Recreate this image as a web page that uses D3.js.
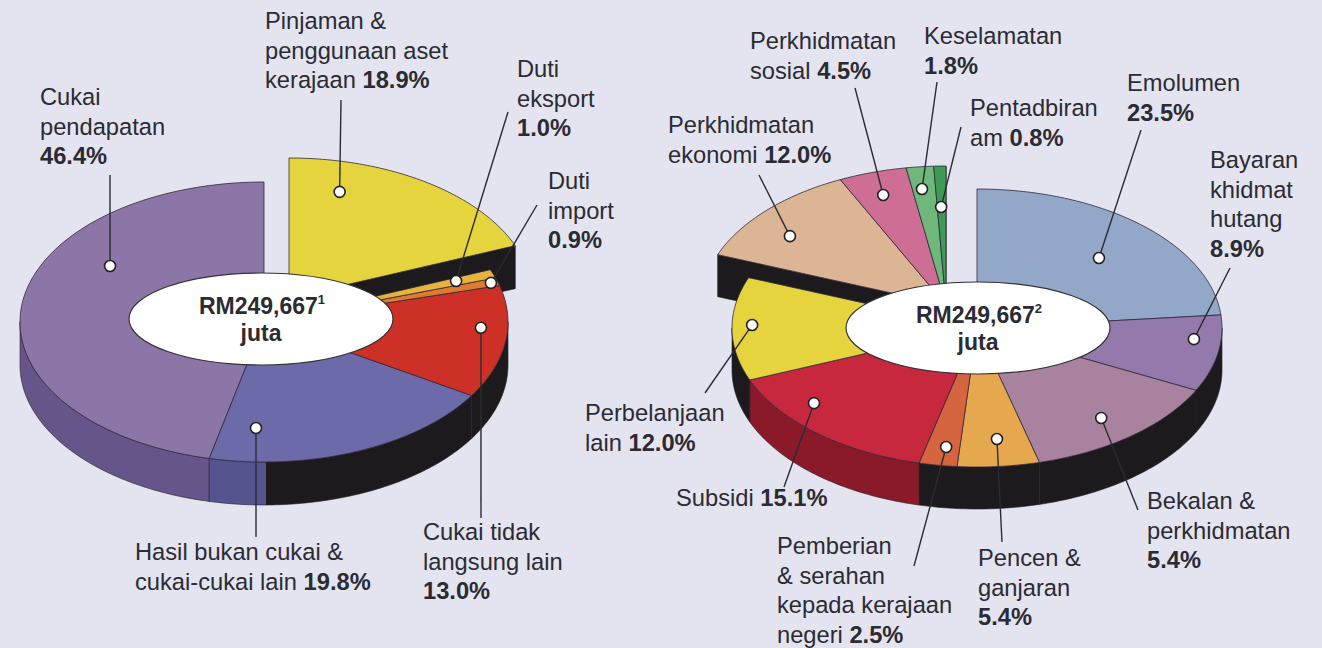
<!DOCTYPE html>
<html>
<head>
<meta charset="utf-8">
<script src="https://cdnjs.cloudflare.com/ajax/libs/d3/7.8.5/d3.min.js"></script>
<style>
    body { margin: 0; background: #e4e4f0; }
    text { font-family: "Liberation Sans", Arial, sans-serif; fill: #2b2b33; }
</style>
</head>
<body>
<div id="chart"></div>
<script>
// revenue pie (left)
var revenueLabels = ["Cukai|pendapatan|{p}", "Hasil bukan cukai &|cukai-cukai lain {p}",
    "Cukai tidak|langsung lain|{p}", "Duti|import|{p}", "Duti|eksport|{p}",
    "Pinjaman &|penggunaan aset|kerajaan {p}"];
var revenueValues = [46.4, 19.8, 13.0, 0.9, 1.0, 18.9];
var revenuePct = ["46.4%", "19.8%", "13.0%", "0.9%", "1.0%", "18.9%"];
var revenueTotal = ["RM249,667", "1", "juta"];

// expenditure pie (right), slice sizes
var spendLabels = ["Emolumen|{p}", "Bayaran|khidmat|hutang|{p}", "Bekalan &|perkhidmatan|{p}",
    "Pencen &|ganjaran|{p}", "Pemberian|& serahan|kepada kerajaan|negeri {p}", "Subsidi {p}",
    "Perbelanjaan|lain {p}", "Perkhidmatan|ekonomi {p}", "Perkhidmatan|sosial {p}",
    "Keselamatan|{p}", "Pentadbiran|am {p}"];
var spendValues = [23.5, 8.9, 13.5, 5.4, 2.5, 15.1, 12.0, 12.0, 4.5, 1.8, 0.8];
var spendPct = ["23.5%", "8.9%", "5.4%", "5.4%", "2.5%", "15.1%", "12.0%", "12.0%", "4.5%", "1.8%", "0.8%"];
var spendTotal = ["RM249,667", "2", "juta"];

var width = 1322,
    height = 648;

var svg = d3.select("#chart")
    .append("svg")
    .attr("width", width)
    .attr("height", height);

svg.append("rect")
    .attr("width", width)
    .attr("height", height)
    .attr("fill", "#e4e4f0");

var line = d3.line();

function drawPie(cfg) {
    var g = svg.append("g");
    var arcs = d3.pie().sort(null).value(d => d)(cfg.values);
    var step = Math.PI / 180;

    function point(a, r, off) {
        return [cfg.cx + off[0] + cfg.dir * r * cfg.rx * Math.sin(a),
            cfg.cy + off[1] - r * cfg.ry * Math.cos(a)];
    }

    function rim(a0, a1, off, dy) {
        var n = Math.max(1, Math.ceil((a1 - a0) / step)),
            pts = [];
        for (var i = 0; i <= n; i++) {
            var p = point(a0 + (a1 - a0) * i / n, 1, off);
            pts.push([p[0], p[1] + dy]);
        }
        return pts;
    }

    // clip areas: coloured shade on the left, black on the right
    var defs = g.append("defs");
    defs.append("clipPath").attr("id", cfg.id + "-l")
        .append("rect").attr("x", 0).attr("y", 0).attr("width", cfg.cutX).attr("height", height);
    defs.append("clipPath").attr("id", cfg.id + "-r")
        .append("rect").attr("x", cfg.cutX).attr("y", 0).attr("width", width).attr("height", height);

    function side(pts, color) {
        g.append("path").attr("d", line(pts) + "Z")
            .attr("fill", color).attr("stroke", "#222").attr("stroke-width", 0.6)
            .attr("clip-path", "url(#" + cfg.id + "-l)");
        g.append("path").attr("d", line(pts) + "Z")
            .attr("fill", "#1c1a1c").attr("stroke", "#222").attr("stroke-width", 0.6)
            .attr("clip-path", "url(#" + cfg.id + "-r)");
    }

    function same(a, b) {
        return a[0] === b[0] && a[1] === b[1];
    }

    // side walls
    arcs.forEach(function (d, i) {
        var off = cfg.offsets[i];
        var n = arcs.length;
        var a0 = Math.max(d.startAngle, Math.PI / 2),
            a1 = Math.min(d.endAngle, 3 * Math.PI / 2);
        if (a1 > a0) {
            side(rim(a0, a1, off, 0).concat(rim(a0, a1, off, cfg.depth).reverse()), cfg.sideColors[i]);
        }
        // cut faces of exploded pieces
        if (off[0] || off[1]) {
            var faces = [];
            if (!same(off, cfg.offsets[(i + n - 1) % n]) && Math.sin(d.startAngle) < 0) faces.push(d.startAngle);
            if (!same(off, cfg.offsets[(i + 1) % n]) && Math.sin(d.endAngle) > 0) faces.push(d.endAngle);
            faces.forEach(function (a) {
                var c = point(a, 0, off),
                    p = point(a, 1, off);
                side([c, p, [p[0], p[1] + cfg.depth], [c[0], c[1] + cfg.depth]], "#1c1a1c");
            });
        }
    });

    // top faces
    g.selectAll(".top")
        .data(arcs)
        .enter()
        .append("path")
        .attr("d", function (d, i) {
            var off = cfg.offsets[i];
            return line([point(0, 0, off)].concat(rim(d.startAngle, d.endAngle, off, 0))) + "Z";
        })
        .attr("fill", (d, i) => cfg.colors[i])
        .attr("stroke", "#2e2838")
        .attr("stroke-width", 0.8)
        .attr("stroke-linejoin", "round");

    // centre label
    g.append("ellipse")
        .attr("cx", cfg.lx).attr("cy", cfg.ly)
        .attr("rx", 132).attr("ry", 46)
        .attr("fill", "#fff").attr("stroke", "#333").attr("stroke-width", 1.2);
    var t = g.append("text")
        .attr("x", cfg.lx + 1).attr("y", cfg.ly - 5)
        .attr("text-anchor", "middle")
        .style("font-weight", "bold").style("font-size", "23px");
    t.append("tspan").text(cfg.total[0]);
    t.append("tspan").attr("dy", -10).style("font-size", "13px").text(cfg.total[1]);
    g.append("text")
        .attr("x", cfg.lx).attr("y", cfg.ly + 22)
        .attr("text-anchor", "middle")
        .style("font-weight", "bold").style("font-size", "23px")
        .text(cfg.total[2]);

    // leaders and dots
    arcs.forEach(function (d, i) {
        var lay = cfg.layout[i];
        var dot = point(d.startAngle + lay.t * (d.endAngle - d.startAngle), lay.r, cfg.offsets[i]);
        g.append("path")
            .attr("d", line([lay.lead, dot]))
            .attr("stroke", "#2b2b33").attr("stroke-width", 1.4).attr("fill", "none");
        g.append("circle")
            .attr("cx", dot[0]).attr("cy", dot[1]).attr("r", 5.5)
            .attr("fill", "#fff").attr("stroke", "#222").attr("stroke-width", 1.6);
    });

    // slice labels, percentage in bold
    cfg.labels.forEach(function (lab, i) {
        var lay = cfg.layout[i];
        var text = g.append("text")
            .attr("x", lay.x).attr("y", lay.y)
            .style("font-size", "23.7px");
        lab.split("|").forEach(function (row, k) {
            var parts = row.split("{p}");
            var yy = lay.y + k * 29.5;
            if (parts[0] !== "") {
                text.append("tspan").attr("x", lay.x).attr("y", yy).text(parts[0]);
            }
            if (parts.length > 1) {
                var b = text.append("tspan").style("font-weight", "bold").text(cfg.pct[i]);
                if (parts[0] === "") b.attr("x", lay.x).attr("y", yy);
            }
        });
    });
}

drawPie({
    id: "rev",
    values: revenueValues,
    labels: revenueLabels,
    pct: revenuePct,
    total: revenueTotal,
    dir: -1,
    cx: 264, cy: 322, rx: 244, ry: 140, depth: 43, cutX: 266,
    lx: 261, ly: 319,
    colors: ["#8c76a8", "#6c6aa8", "#cc3026", "#e07a30", "#e6b43c", "#e6d43e"],
    sideColors: ["#66558a", "#55548e", "#1c1a1c", "#1c1a1c", "#1c1a1c", "#1c1a1c"],
    offsets: [[0, 0], [0, 0], [0, 0], [0, 0], [0, 0], [25, -24]],
    layout: [
        { x: 40, y: 105, lead: [110, 175], t: 0.345, r: 0.747 },
        { x: 135, y: 560, lead: [256, 537], t: 0.147, r: 0.758 },
        { x: 423, y: 540, lead: [481, 518], t: 0.62, r: 0.89 },
        { x: 548, y: 189, lead: [537, 205], t: 0.49, r: 0.971 },
        { x: 517, y: 77, lead: [508, 112], t: 0.57, r: 0.84 },
        { x: 265, y: 29, lead: [341, 100], t: 0.775, r: 0.786 }
    ]
});

drawPie({
    id: "exp",
    values: spendValues,
    labels: spendLabels,
    pct: spendPct,
    total: spendTotal,
    dir: 1,
    cx: 977, cy: 328, rx: 245, ry: 139, depth: 42, cutX: 977,
    lx: 978, ly: 328,
    colors: ["#93a7c9", "#9479ad", "#a8829f", "#e6a84e", "#d5653e", "#c8283e",
        "#e6d43e", "#dbb594", "#cf6e94", "#6fb77a", "#3f9a55"],
    sideColors: ["#1c1a1c", "#1c1a1c", "#1c1a1c", "#1c1a1c", "#1c1a1c", "#8a1a2a",
        "#1c1a1c", "#1c1a1c", "#1c1a1c", "#1c1a1c", "#1c1a1c"],
    offsets: [[0, 0], [0, 0], [0, 0], [0, 0], [0, 0], [0, 0], [0, 0],
        [-31, -23], [-31, -23], [-31, -23], [-31, -23]],
    layout: [
        { x: 1127, y: 91, lead: [1141, 130], t: 0.528, r: 0.708 },
        { x: 1210, y: 168, lead: [1230, 268], t: 0.33, r: 0.889 },
        { x: 1147, y: 509, lead: [1138, 510], t: 0.52, r: 0.822 },
        { x: 978, y: 566, lead: [1002, 542], t: 0.46, r: 0.803 },
        { x: 777, y: 554, lead: [914, 566], t: 0.41, r: 0.865 },
        { x: 676, y: 506, lead: [784, 487], t: 0.685, r: 0.857 },
        { x: 585, y: 421, lead: [705, 393], t: 0.54, r: 0.918 },
        { x: 668, y: 133, lead: [759, 175], t: 0.385, r: 0.807 },
        { x: 750, y: 49, lead: [855, 88], t: 0.47, r: 0.832 },
        { x: 924, y: 44, lead: [937, 82], t: 0.41, r: 0.84 },
        { x: 970, y: 116, lead: [961, 127], t: 0.44, r: 0.705 }
    ]
});
</script>
</body>
</html>
